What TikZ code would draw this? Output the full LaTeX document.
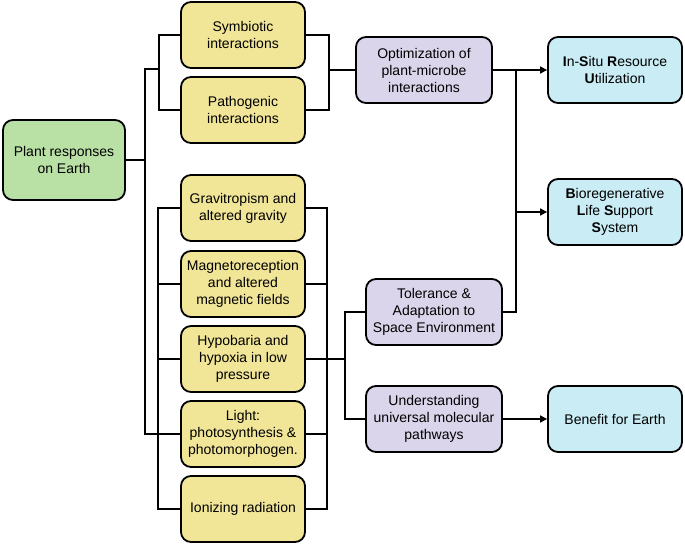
\documentclass[tikz,border=0pt]{standalone}
\usepackage{fontspec}
\setmainfont{Liberation Sans}
\usetikzlibrary{arrows.meta}
\definecolor{cgreen}{RGB}{185,224,165}
\definecolor{cyellow}{RGB}{241,229,152}
\definecolor{cpurple}{RGB}{219,213,235}
\definecolor{ccyan}{RGB}{201,236,245}
\begin{document}
\begin{tikzpicture}[x=1pt,y=-1pt,
  box/.style={draw=black, line width=1.8pt, rounded corners=10pt, align=center,
    font=\fontsize{14}{17}\selectfont, inner sep=0pt},
  gbox/.style={box, fill=cgreen, minimum width=122pt, minimum height=80pt},
  ybox/.style={box, fill=cyellow, minimum width=124pt, minimum height=66pt},
  pbox/.style={box, fill=cpurple, minimum width=136pt, minimum height=66pt},
  cbox/.style={box, fill=ccyan, minimum width=134pt, minimum height=66pt},
  conn/.style={draw=black, line width=1.6pt},
  arr/.style={conn, -{Triangle[length=7pt,width=7pt]}}]
\useasboundingbox (0,0) rectangle (685,545);
\node[gbox] (plant) at (64,160) {Plant responses\\on Earth};
\node[ybox] (sym) at (243,35) {Symbiotic\\interactions};
\node[ybox] (path) at (243,110) {Pathogenic\\interactions};
\node[ybox] (grav) at (243,208) {Gravitropism and\\altered gravity};
\node[ybox] (mag) at (243,284) {Magnetoreception\\and altered\\magnetic fields};
\node[ybox] (hypo) at (243,359) {Hypobaria and\\hypoxia in low\\pressure};
\node[ybox] (light) at (243,434) {Light:\\photosynthesis \&\\photomorphogen.};
\node[ybox] (ion) at (243,509) {Ionizing radiation};
\node[pbox] (opt) at (424,70) {Optimization of\\plant-microbe\\interactions};
\node[pbox] (tol) at (434,312) {Tolerance \&\\Adaptation to\\Space Environment};
\node[pbox] (und) at (434,419) {Understanding\\universal molecular\\pathways};
\node[cbox] (isru) at (615,70) {\textbf{I}n-\textbf{S}itu \textbf{R}esource\\\textbf{U}tilization};
\node[cbox] (blss) at (615,212) {\textbf{B}ioregenerative\\\textbf{L}ife \textbf{S}upport\\\textbf{S}ystem};
\node[cbox] (ben) at (615,419) {Benefit for Earth};
% junction coordinates
\coordinate (tTop) at (145,69);
\coordinate (jL1) at (159,69);
\coordinate (bL) at (158,0);
\coordinate (jR1) at (329,70);
\coordinate (bR) at (327,0);
\coordinate (jR2) at (345,0);
\coordinate (jx) at (516,0);
% left trunk
\draw[conn] (plant.east) -- (plant.east -| tTop);
\draw[conn] (jL1) -- (tTop) |- (light.west);
\draw[conn] (sym.west) -| (jL1) |- (path.west);
% lower left bracket
\draw[conn] (grav.west) -- (grav.west -| bL) -- (ion.west -| bL) -- (ion.west);
\draw[conn] (mag.west) -- (mag.west -| bL);
\draw[conn] (hypo.west) -- (hypo.west -| bL);
\draw[conn] (light.west) -- (light.west -| bL);
% right top bracket
\draw[conn] (sym.east) -| (jR1) |- (path.east);
\draw[conn] (jR1) -- (opt.west);
% lower right bracket
\draw[conn] (grav.east) -- (grav.east -| bR) -- (ion.east -| bR) -- (ion.east);
\draw[conn] (mag.east) -- (mag.east -| bR);
\draw[conn] (light.east) -- (light.east -| bR);
\draw[conn] (hypo.east) -- (hypo.east -| jR2);
\draw[conn] (tol.west) -- (tol.west -| jR2) -- (und.west -| jR2) -- (und.west);
% right side
\draw[arr] (opt.east) -- (isru.west);
\draw[conn] (tol.east) -- (tol.east -| jx) -- (opt.east -| jx);
\draw[arr] (blss.west -| jx) -- (blss.west);
\draw[arr] (und.east) -- (ben.west);
\end{tikzpicture}
\end{document}
